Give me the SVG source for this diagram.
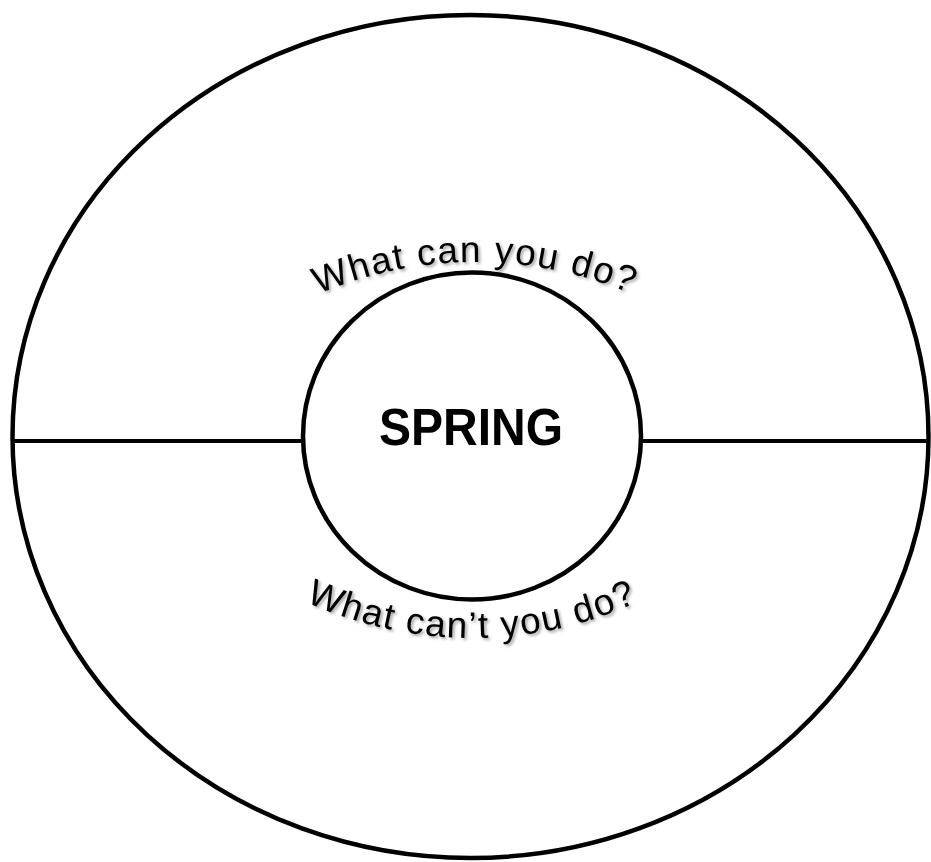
<svg xmlns="http://www.w3.org/2000/svg" width="931" height="862" viewBox="0 0 931 862">
  <style>
    .ring { fill: none; stroke: #000; stroke-width: 4.5; }
    .divider { stroke: #000; stroke-width: 4; }
    .title { font-family: "Liberation Sans", Arial, sans-serif; font-weight: bold; font-size: 51px; fill: #000; }
    .arc { font-family: "Liberation Sans", Arial, sans-serif; font-size: 37px; fill: #000; letter-spacing: 1.5px; }
  </style>
  <defs>
    <filter id="shadow" x="-10%" y="-30%" width="120%" height="160%">
      <feDropShadow dx="2" dy="2" stdDeviation="1.5" flood-color="#000" flood-opacity="0.35"/>
    </filter>
    <path id="topArc" d="M 290 307.4 A 400 400 0 0 1 660 307.4"/>
    <path id="bottomArc" d="M 287 592.6 A 400 400 0 0 0 657 592.6"/>
  </defs>
  <g id="outer">
    <ellipse class="ring" cx="470.5" cy="436.5" rx="458" ry="421.5"/>
  </g>
  <g id="connectors">
    <line class="divider" x1="13" y1="441" x2="303" y2="441"/>
    <line class="divider" x1="641" y1="441" x2="929" y2="441"/>
  </g>
  <g id="center">
    <ellipse class="ring" cx="472" cy="436" rx="169" ry="163.5" fill="#fff"/>
    <text class="title" x="471" y="445" text-anchor="middle" textLength="184" lengthAdjust="spacingAndGlyphs">SPRING</text>
  </g>
  <g id="label-top" filter="url(#shadow)">
    <text class="arc" text-anchor="middle"><textPath href="#topArc" startOffset="50%">What can you do?</textPath></text>
  </g>
  <g id="label-bottom" filter="url(#shadow)">
    <text class="arc" text-anchor="middle"><textPath href="#bottomArc" startOffset="50%">What can’t you do?</textPath></text>
  </g>
</svg>
